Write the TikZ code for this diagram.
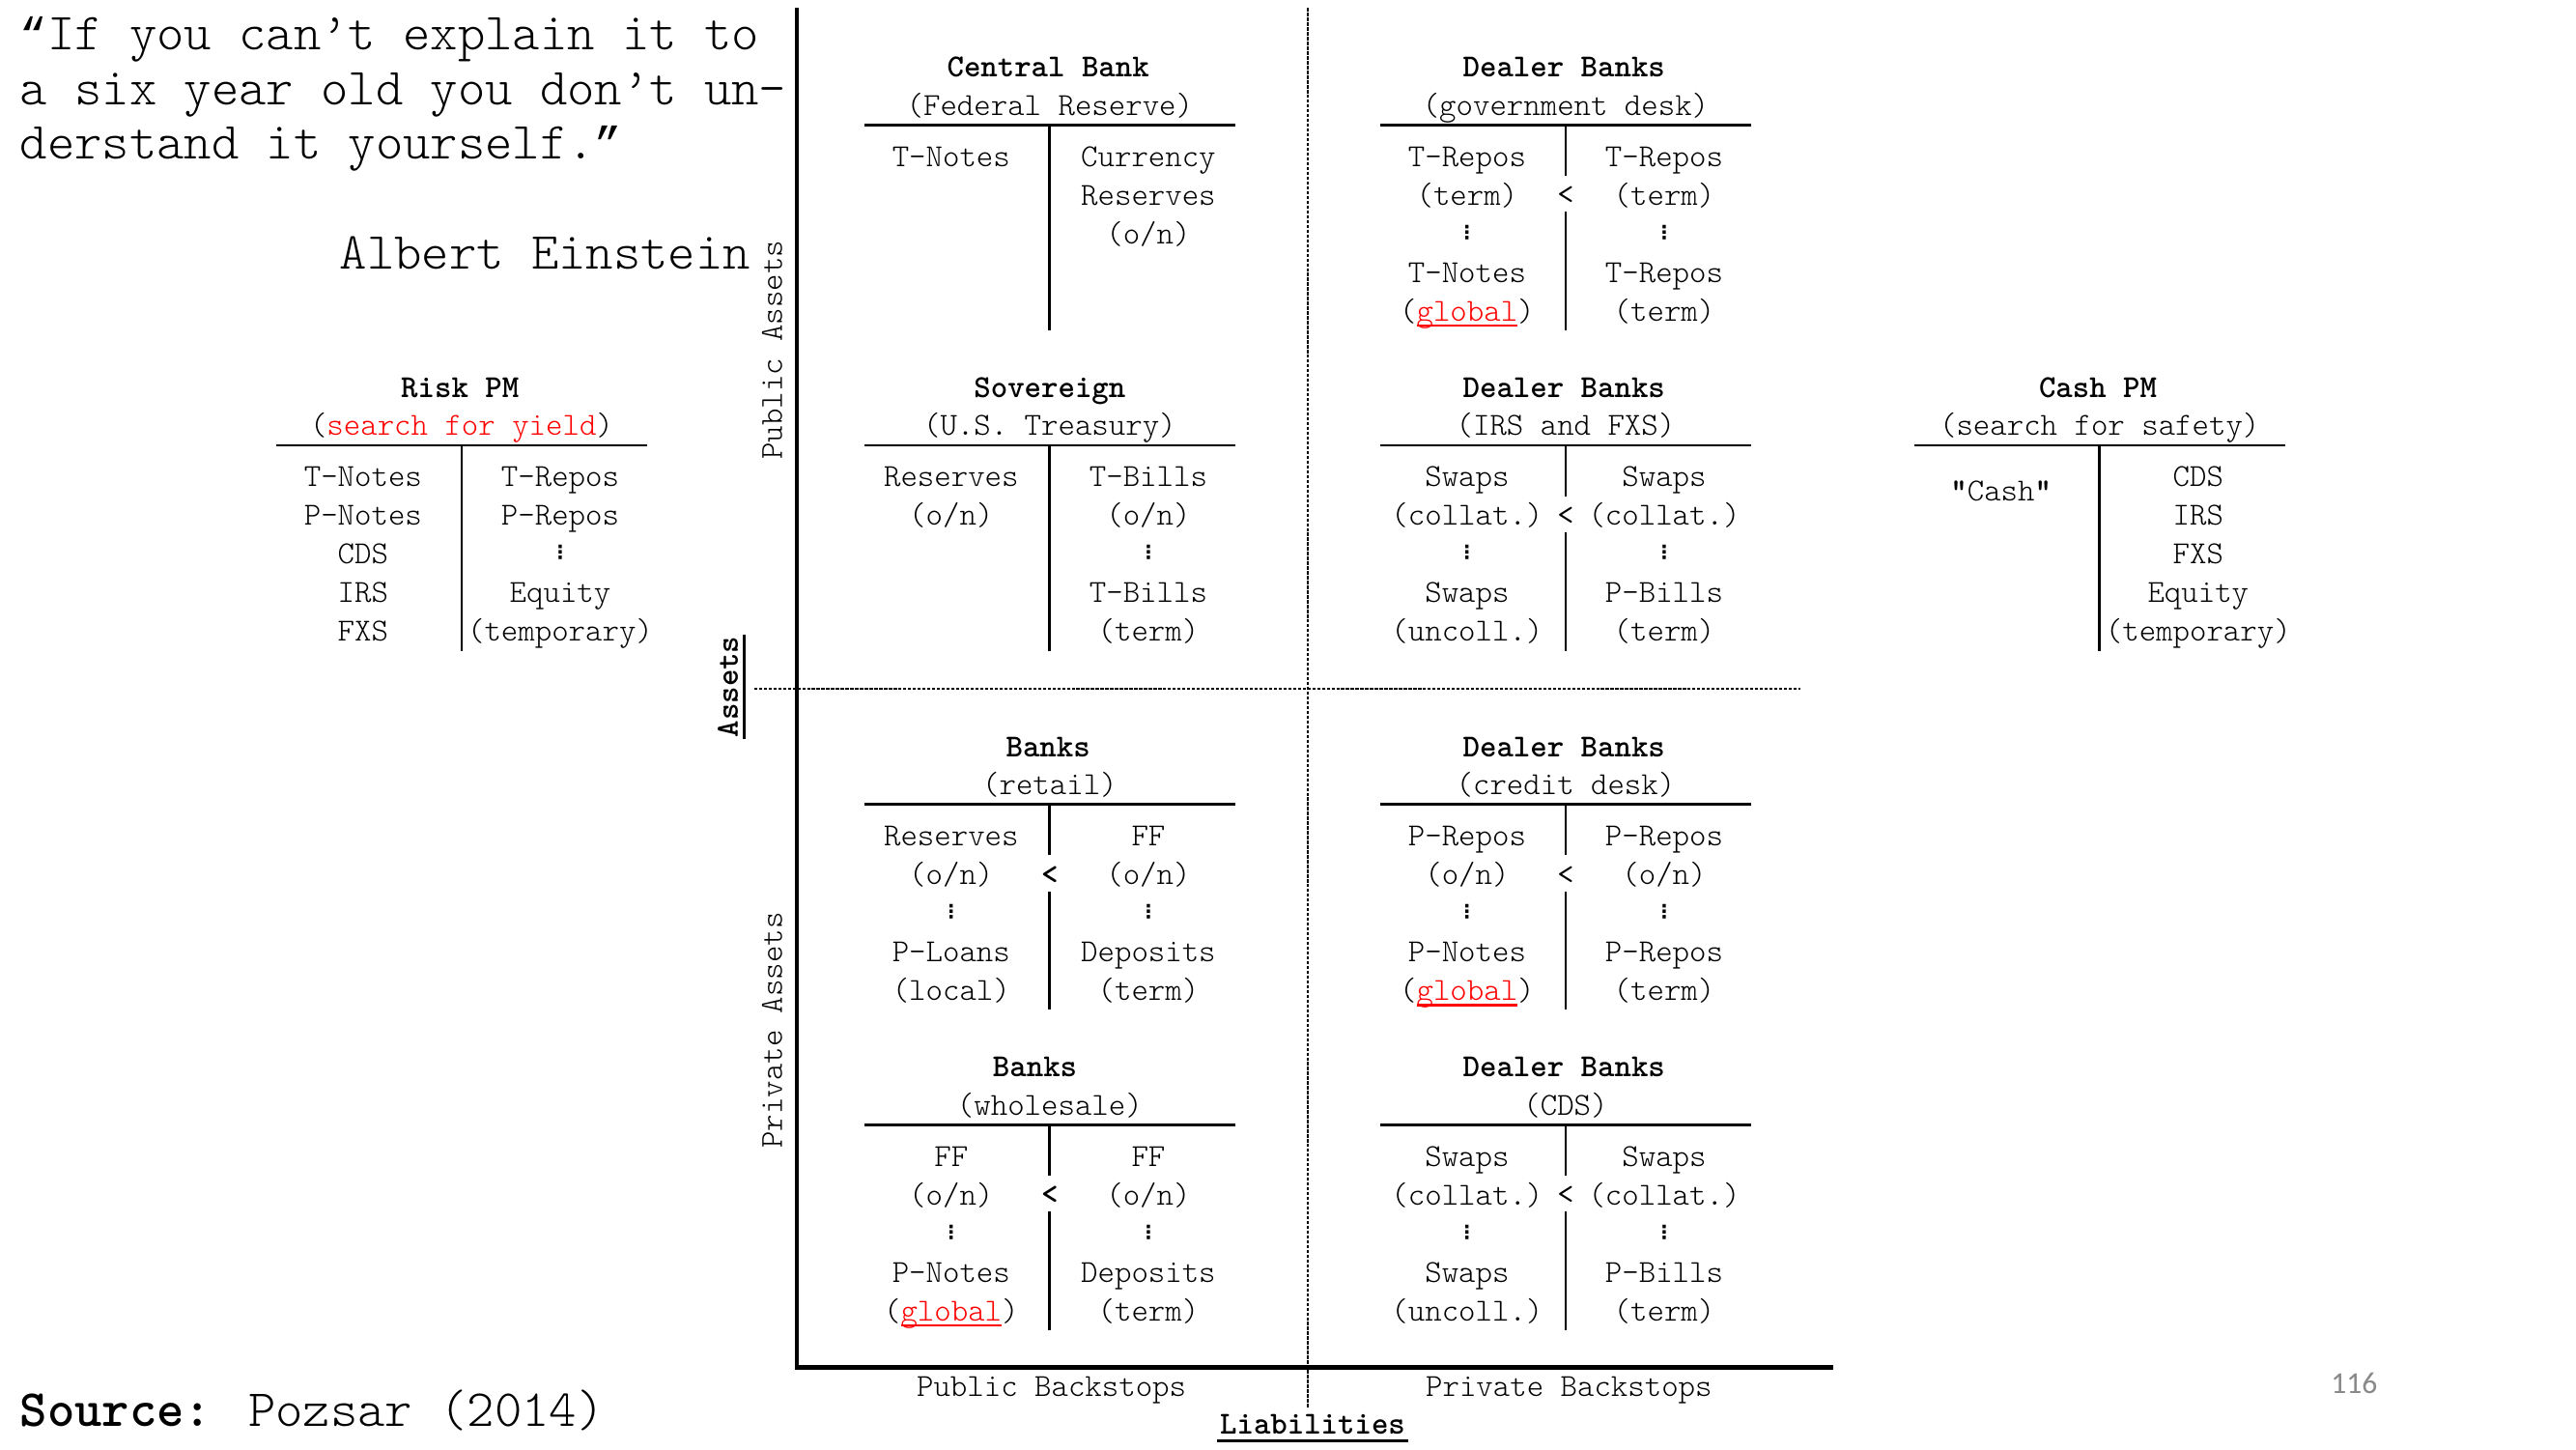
\documentclass[tikz,border=0pt]{standalone}
\usepackage{fontspec}
\newfontfamily\carlito{Carlito}
\newfontfamily\dejavu{DejaVu Sans}
\newfontfamily\libmono{Liberation Mono}
\usepackage{xcolor}
\definecolor{pagegray}{HTML}{898989}
% light typewriter as in the slide, vertical ellipsis, curly quotes and red underlined word
\newcommand{\tabfont}{\ttfamily\fontseries{l}\fontsize{12}{14.45}\selectfont}
\newcommand{\vd}{\raisebox{1.8pt}{\dejavu\bfseries\fontsize{7}{7}\selectfont ⋮}}
\newcommand{\qo}{{\libmono\fontsize{17}{20.6}\selectfont “}}
\newcommand{\qc}{{\libmono\fontsize{17}{20.6}\selectfont ”}}
\newcommand{\redul}[1]{{\color{red}\setbox0\hbox{#1}\rlap{\rule[-2.2pt]{\wd0}{0.9pt}}\box0}}

\begin{document}
\begin{tikzpicture}[x=0.216mm, y=-0.216mm,
    every node/.style={inner sep=0pt, font=\tabfont},
    tline/.style={line width=1pt},
    axis/.style={line width=1.7pt},
    guide/.style={line width=0.6pt, dash pattern=on 1.2pt off 0.6pt},
    head/.style={anchor=base, font=\tabfont\bfseries},
    txt/.style={anchor=base},
    col/.style={anchor=north, align=center},
    quote/.style={font=\ttfamily\fontseries{l}\fontsize{19.5}{20.6}\selectfont}]
    \useasboundingbox (0,0) rectangle (1568,882);

    % quote and source
    \node[quote, anchor=base west] (q1) at (12,30) {\qo If you can’t explain it to};
    \node[quote, anchor=base west] (q2) at (12,64) {a six year old you don’t un-};
    \node[quote, anchor=base west] (q3) at (12,97) {derstand it yourself.\qc};
    \node[quote, anchor=base east] (einstein) at (457,164) {Albert Einstein};
    \node[quote, anchor=base west] (source) at (12,868) {\textbf{Source:} Pozsar (2014)};
    \node[font=\fontsize{11.4}{13}\selectfont\carlito, text=pagegray] (page) at (1433,842) {116};

    % axes
    \draw[axis] (485,5) -- (485,832) -- (1116,832);
    \draw[guide] (796,5) -- (796,857);
    \draw[guide] (459,419) -- (1096,419);
    \node[rotate=90] (pubassets) at (470,213) {Public Assets};
    \node[rotate=90] (privassets) at (470,627) {Private Assets};
    \node[rotate=90, font=\tabfont\bfseries] (assets) at (443,418) {Assets};
    \draw[line width=1.2pt] (453,386) -- (453,450);
    \node[head] (liab) at (799,873) {Liabilities};
    \draw[line width=1.2pt] (741,877) -- (857,877);
    \node[txt] (pubback) at (640,850) {Public Backstops};
    \node[txt] (privback) at (955,850) {Private Backstops};

    % T-account heads: name/centre line x/top line y/title x/title/subtitle
    \foreach \n/\cx/\ly/\tx/\ti/\su in {
        cb/639/76/638/Central Bank/(Federal Reserve),
        gov/953/76/952/Dealer Banks/(government desk),
        risk/281/271/280/Risk PM/({\color{red}search for yield}),
        sov/639/271/639/Sovereign/(U.S. Treasury),
        irs/953/271/952/Dealer Banks/(IRS and FXS),
        cash/1278/271/1277/Cash PM/(search for safety),
        retail/639/489.5/638/Banks/(retail),
        credit/953/489.5/952/Dealer Banks/(credit desk),
        whole/639/684.5/630/Banks/(wholesale),
        cds/953/684.5/952/Dealer Banks/(CDS)}{
        \node[head] (\n-t) at (\tx,\ly-29) {\ti};
        \node[txt] (\n-s) at (\cx,\ly-6) {\su};
        \draw[tline] (\cx-113,\ly) -- (\cx+113,\ly);
    }
    % full centre lines
    \foreach \cx/\ly in {639/76, 281/271, 639/271, 1278/271}
        \draw[tline] (\cx,\ly) -- (\cx,\ly+125);
    % centre lines broken by <
    \foreach \n/\cx/\ly/\w in {gov/953/76/\mdseries, irs/953/271/\mdseries,
        retail/639/489.5/\bfseries, credit/953/489.5/\mdseries,
        whole/639/684.5/\bfseries, cds/953/684.5/\mdseries}{
        \draw[tline] (\cx,\ly) -- (\cx,\ly+31);
        \draw[tline] (\cx,\ly+53) -- (\cx,\ly+125);
        \node[txt] (\n-lt) at (\cx,\ly+48.5) {\w <};
    }

    % columns
    \node[col] (cb-l) at (579,84.5) {\strut T-Notes};
    \node[col] (cb-r) at (699,84.5) {\strut Currency\\Reserves\\(o/n)};
    \node[col] (gov-l) at (893,84.5) {\strut T-Repos\\(term)\\\vd\\T-Notes\\(\redul{global})};
    \node[col] (gov-r) at (1013,84.5) {\strut T-Repos\\(term)\\\vd\\T-Repos\\(term)};

    \node[col] (risk-l) at (221,279.5) {\strut T-Notes\\P-Notes\\CDS\\IRS\\FXS};
    \node[col] (risk-r) at (341,279.5) {\strut T-Repos\\P-Repos\\\vd\\Equity\\(temporary)};
    \node[col] (sov-l) at (579,279.5) {\strut Reserves\\(o/n)};
    \node[col] (sov-r) at (699,279.5) {\strut T-Bills\\(o/n)\\\vd\\T-Bills\\(term)};
    \node[col] (irs-l) at (893,279.5) {\strut Swaps\\(collat.)\\\vd\\Swaps\\(uncoll.)};
    \node[col] (irs-r) at (1013,279.5) {\strut Swaps\\(collat.)\\\vd\\P-Bills\\(term)};
    \node[txt] (cash-l) at (1218,305) {{\bfseries"}Cash{\bfseries"}};
    \node[col] (cash-r) at (1338,279.5) {\strut CDS\\IRS\\FXS\\Equity\\(temporary)};

    \node[col] (retail-l) at (579,498) {\strut Reserves\\(o/n)\\\vd\\P-Loans\\(local)};
    \node[col] (retail-r) at (699,498) {\strut FF\\(o/n)\\\vd\\Deposits\\(term)};
    \node[col] (credit-l) at (893,498) {\strut P-Repos\\(o/n)\\\vd\\P-Notes\\(\redul{global})};
    \node[col] (credit-r) at (1013,498) {\strut P-Repos\\(o/n)\\\vd\\P-Repos\\(term)};

    \node[col] (whole-l) at (579,693) {\strut FF\\(o/n)\\\vd\\P-Notes\\(\redul{global})};
    \node[col] (whole-r) at (699,693) {\strut FF\\(o/n)\\\vd\\Deposits\\(term)};
    \node[col] (cds-l) at (893,693) {\strut Swaps\\(collat.)\\\vd\\Swaps\\(uncoll.)};
    \node[col] (cds-r) at (1013,693) {\strut Swaps\\(collat.)\\\vd\\P-Bills\\(term)};
\end{tikzpicture}
\end{document}
